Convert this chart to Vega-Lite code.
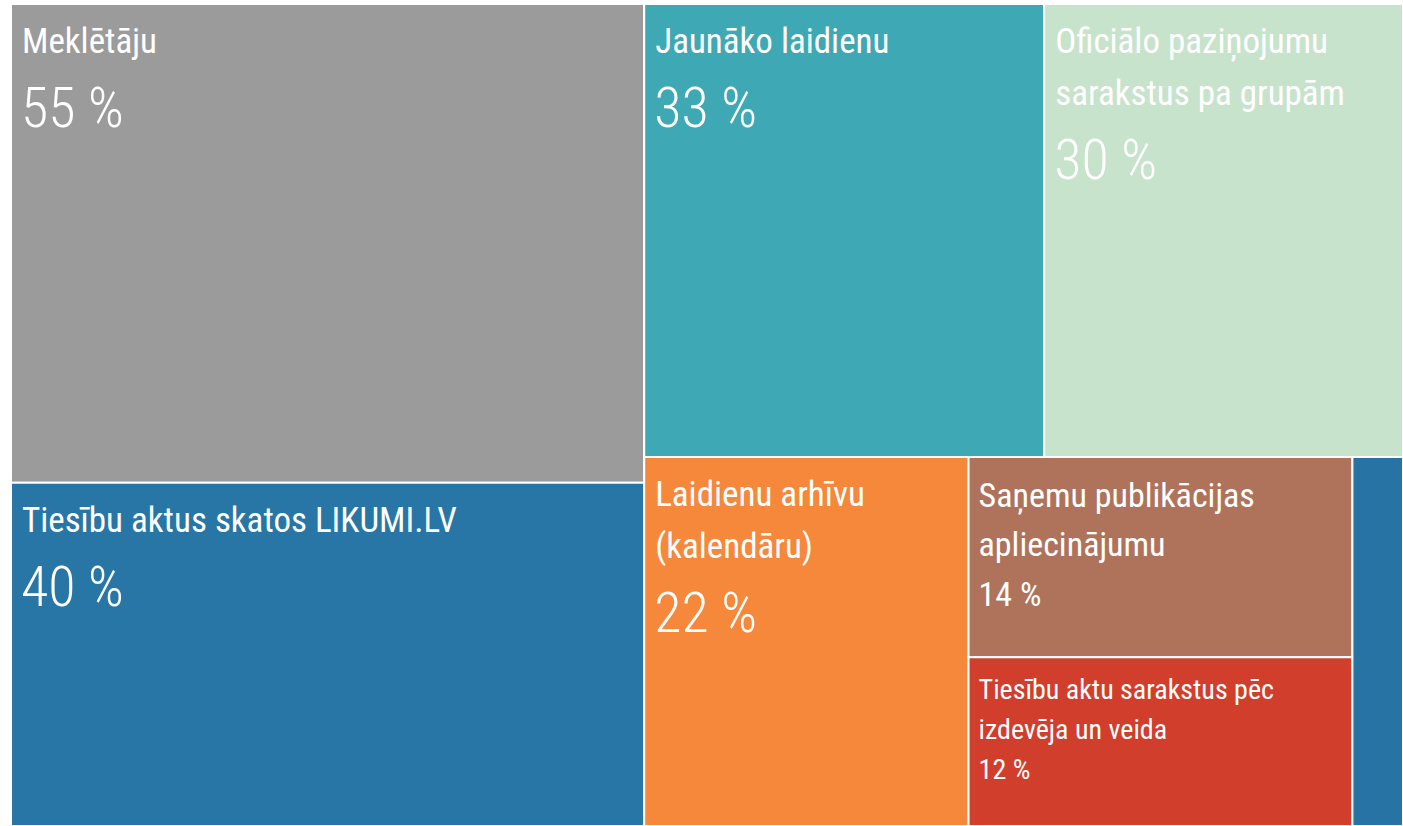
{
  "$schema": "https://vega.github.io/schema/vega-lite/v6.json",
  "width": 1392,
  "height": 822,
  "autosize": {"type": "none"},
  "padding": {"left": 11, "top": 4, "right": 0, "bottom": 0},
  "background": "#ffffff",
  "config": {"view": {"stroke": null}, "text": {"font": "'Noto Sans Condensed', 'Roboto Condensed', 'DejaVu Sans Condensed', 'Open Sans Condensed', Lato, sans-serif", "fill": "#ffffff"}},
  "data": {
    "values": [
      {"name": "Meklētāju", "label": "Meklētāju", "value": 55.2, "col": "A", "band": "A1", "cell": "A1", "order": 1},
      {"name": "Tiesību aktus skatos LIKUMI.LV", "label": "Tiesību aktus skatos LIKUMI.LV", "value": 39.6, "col": "A", "band": "A2", "cell": "A2", "order": 2},
      {"name": "Jaunāko laidienu", "label": "Jaunāko laidienu", "value": 33, "col": "B", "band": "top", "cell": "B1", "order": 3},
      {"name": "Oficiālo paziņojumu sarakstus pa grupām", "label": "Oficiālo paziņojumu\nsarakstus pa grupām", "value": 29.6, "col": "B", "band": "top", "cell": "B2", "order": 4},
      {"name": "Laidienu arhīvu (kalendāru)", "label": "Laidienu arhīvu\n(kalendāru)", "value": 21.8, "col": "B", "band": "bottom", "cell": "B3", "order": 5},
      {"name": "Saņemu publikācijas apliecinājumu", "label": "Saņemu publikācijas\napliecinājumu", "value": 14.0, "col": "B", "band": "bottom", "cell": "C", "order": 6},
      {"name": "Tiesību aktu sarakstus pēc izdevēja un veida", "label": "Tiesību aktu sarakstus pēc\nizdevēja un veida", "value": 11.8, "col": "B", "band": "bottom", "cell": "C", "order": 7},
      {"name": "Cits", "label": "Cits", "value": 3.4, "col": "B", "band": "bottom", "cell": "B5", "order": 8}
    ]
  },
  "transform": [
    {"stack": "value", "groupby": [], "sort": [{"field": "order", "order": "ascending"}], "offset": "normalize", "as": ["s0", "s1"]},
    {"joinaggregate": [{"op": "min", "field": "s0", "as": "cx0"}, {"op": "max", "field": "s1", "as": "cx1"}], "groupby": ["col"]},
    {"stack": "value", "groupby": ["col"], "sort": [{"field": "order", "order": "ascending"}], "offset": "normalize", "as": ["b0", "b1"]},
    {"joinaggregate": [{"op": "min", "field": "b0", "as": "by0"}, {"op": "max", "field": "b1", "as": "by1"}], "groupby": ["col", "band"]},
    {"stack": "value", "groupby": ["col", "band"], "sort": [{"field": "order", "order": "ascending"}], "offset": "normalize", "as": ["c0", "c1"]},
    {"joinaggregate": [{"op": "min", "field": "c0", "as": "cf0"}, {"op": "max", "field": "c1", "as": "cf1"}], "groupby": ["col", "band", "cell"]},
    {"stack": "value", "groupby": ["col", "band", "cell"], "sort": [{"field": "order", "order": "ascending"}], "offset": "normalize", "as": ["d0", "d1"]},
    {"calculate": "datum.cx0 + datum.cf0 * (datum.cx1 - datum.cx0)", "as": "x0"},
    {"calculate": "datum.cx0 + datum.cf1 * (datum.cx1 - datum.cx0)", "as": "x1"},
    {"calculate": "datum.by0 + datum.d0 * (datum.by1 - datum.by0)", "as": "y0"},
    {"calculate": "datum.by0 + datum.d1 * (datum.by1 - datum.by0)", "as": "y1"},
    {"calculate": "format(datum.value, '.0f') + ' %'", "as": "pct"},
    {"calculate": "indexof(datum.label, '\\n') >= 0 ? 2 : 1", "as": "nlines"}
  ],
  "encoding": {
    "x": {"field": "x0", "type": "quantitative", "axis": null, "scale": {"domain": [0, 1], "nice": false, "zero": false}},
    "y": {"field": "y0", "type": "quantitative", "axis": null, "scale": {"domain": [0, 1], "nice": false, "zero": false, "reverse": true}}
  },
  "layer": [
    {
      "mark": {"type": "rect", "stroke": "#ffffff", "strokeWidth": 2},
      "encoding": {
        "x2": {"field": "x1"},
        "y2": {"field": "y1"},
        "color": {
          "field": "name", "type": "nominal", "legend": null,
          "scale": {
            "domain": ["Meklētāju", "Tiesību aktus skatos LIKUMI.LV", "Jaunāko laidienu", "Oficiālo paziņojumu sarakstus pa grupām", "Laidienu arhīvu (kalendāru)", "Saņemu publikācijas apliecinājumu", "Tiesību aktu sarakstus pēc izdevēja un veida", "Cits"],
            "range": ["#9b9b9b", "#2776a6", "#3fa8b5", "#c7e3cc", "#f5883a", "#ae735a", "#d13e2c", "#2673a4"]
          }
        }
      }
    },
    {
      "transform": [{"filter": "datum.value >= 20"}],
      "mark": {"type": "text", "align": "left", "baseline": "alphabetic", "dx": 11, "dy": 49, "fontSize": 35, "lineHeight": 52, "lineBreak": "\n"},
      "encoding": {"text": {"field": "label", "type": "nominal"}}
    },
    {
      "transform": [{"filter": "datum.value >= 20 && datum.nlines == 1"}],
      "mark": {"type": "text", "align": "left", "baseline": "alphabetic", "dx": 10, "dy": 123, "fontSize": 56, "fontWeight": 300},
      "encoding": {"text": {"field": "pct", "type": "nominal"}}
    },
    {
      "transform": [{"filter": "datum.value >= 20 && datum.nlines == 2"}],
      "mark": {"type": "text", "align": "left", "baseline": "alphabetic", "dx": 10, "dy": 175, "fontSize": 56, "fontWeight": 300},
      "encoding": {"text": {"field": "pct", "type": "nominal"}}
    },
    {
      "transform": [{"filter": "datum.value >= 13 && datum.value < 20"}, {"calculate": "datum.label + '\\n' + datum.pct", "as": "full"}],
      "mark": {"type": "text", "align": "left", "baseline": "alphabetic", "dx": 10, "dy": 50, "fontSize": 34, "lineHeight": 49.5, "lineBreak": "\n"},
      "encoding": {"text": {"field": "full", "type": "nominal"}}
    },
    {
      "transform": [{"filter": "datum.value >= 5 && datum.value < 13"}, {"calculate": "datum.label + '\\n' + datum.pct", "as": "full"}],
      "mark": {"type": "text", "align": "left", "baseline": "alphabetic", "dx": 10, "dy": 42, "fontSize": 28, "lineHeight": 40, "lineBreak": "\n"},
      "encoding": {"text": {"field": "full", "type": "nominal"}}
    }
  ]
}
